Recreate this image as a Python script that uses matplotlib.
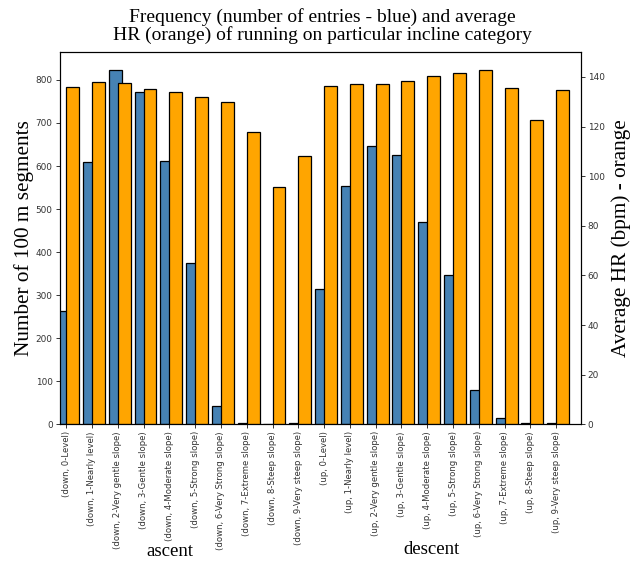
import matplotlib
matplotlib.use("Agg")
import matplotlib.pyplot as plt
import numpy as np

slopes = ['0-Level', '1-Nearly level', '2-Very gentle slope', '3-Gentle slope',
          '4-Moderate slope', '5-Strong slope', '6-Very Strong slope',
          '7-Extreme slope', '8-Steep slope', '9-Very steep slope']
categories = [f'(down, {s})' for s in slopes] + [f'(up, {s})' for s in slopes]

# number of 100 m segments per incline category
counts = [263, 610, 823, 772, 612, 374, 42, 4, 0, 2,
          314, 553, 646, 625, 470, 346, 80, 14, 4, 4]
# average heart rate (bpm)
avg_hr = [135.9, 138.0, 137.5, 135.1, 134.0, 132.0, 130.0, 117.9, 95.6, 108.2,
          136.2, 137.0, 137.0, 138.4, 140.4, 141.7, 142.8, 135.5, 122.5, 134.9]

W, H = 637, 565
fig = plt.figure(figsize=(W / 100, H / 100), dpi=100)
ax = fig.add_axes([59.5 / W, 1 - 424.3 / H, 521.2 / W, 372 / H])
ax2 = ax.twinx()

x = np.arange(len(categories))
ax.bar(x - 0.1, counts, width=0.5, color='steelblue', edgecolor='black', linewidth=0.9)
ax2.bar(x + 0.25, avg_hr, width=0.5, color='orange', edgecolor='black', linewidth=0.9)

ax.set_xlim(-0.26, 19.95)
ax.set_xticks(x)
ax.set_xticklabels(categories, rotation=90, fontsize=6.1)
ax.tick_params(axis='y', labelsize=6.4)
ax2.tick_params(axis='y', labelsize=6.4)
for a in (ax, ax2):
    a.tick_params(length=3, width=0.7, pad=2, colors='#333333')
    for sp in a.spines.values():
        sp.set_linewidth(0.8)

serif = 'Liberation Serif'
ax.set_ylabel('Number of 100 m segments', family=serif, fontsize=15.3)
ax2.set_ylabel('Average HR (bpm) - orange', family=serif, fontsize=15.3, labelpad=5)
ax.yaxis.set_label_coords(-0.048, 0.5)
fig.text(322 / W, 1 - 26 / H,
         'Frequency (number of entries - blue) and average\nHR (orange) of running on particular incline category',
         family=serif, fontsize=14, ha='center', va='center', linespacing=0.95)
fig.text(170 / W, 1 - 552 / H, 'ascent', family=serif, fontsize=13.5, ha='center', va='center')
fig.text(431 / W, 1 - 550 / H, 'descent', family=serif, fontsize=13.5, ha='center', va='center')

fig.savefig('out.png', dpi=100)
